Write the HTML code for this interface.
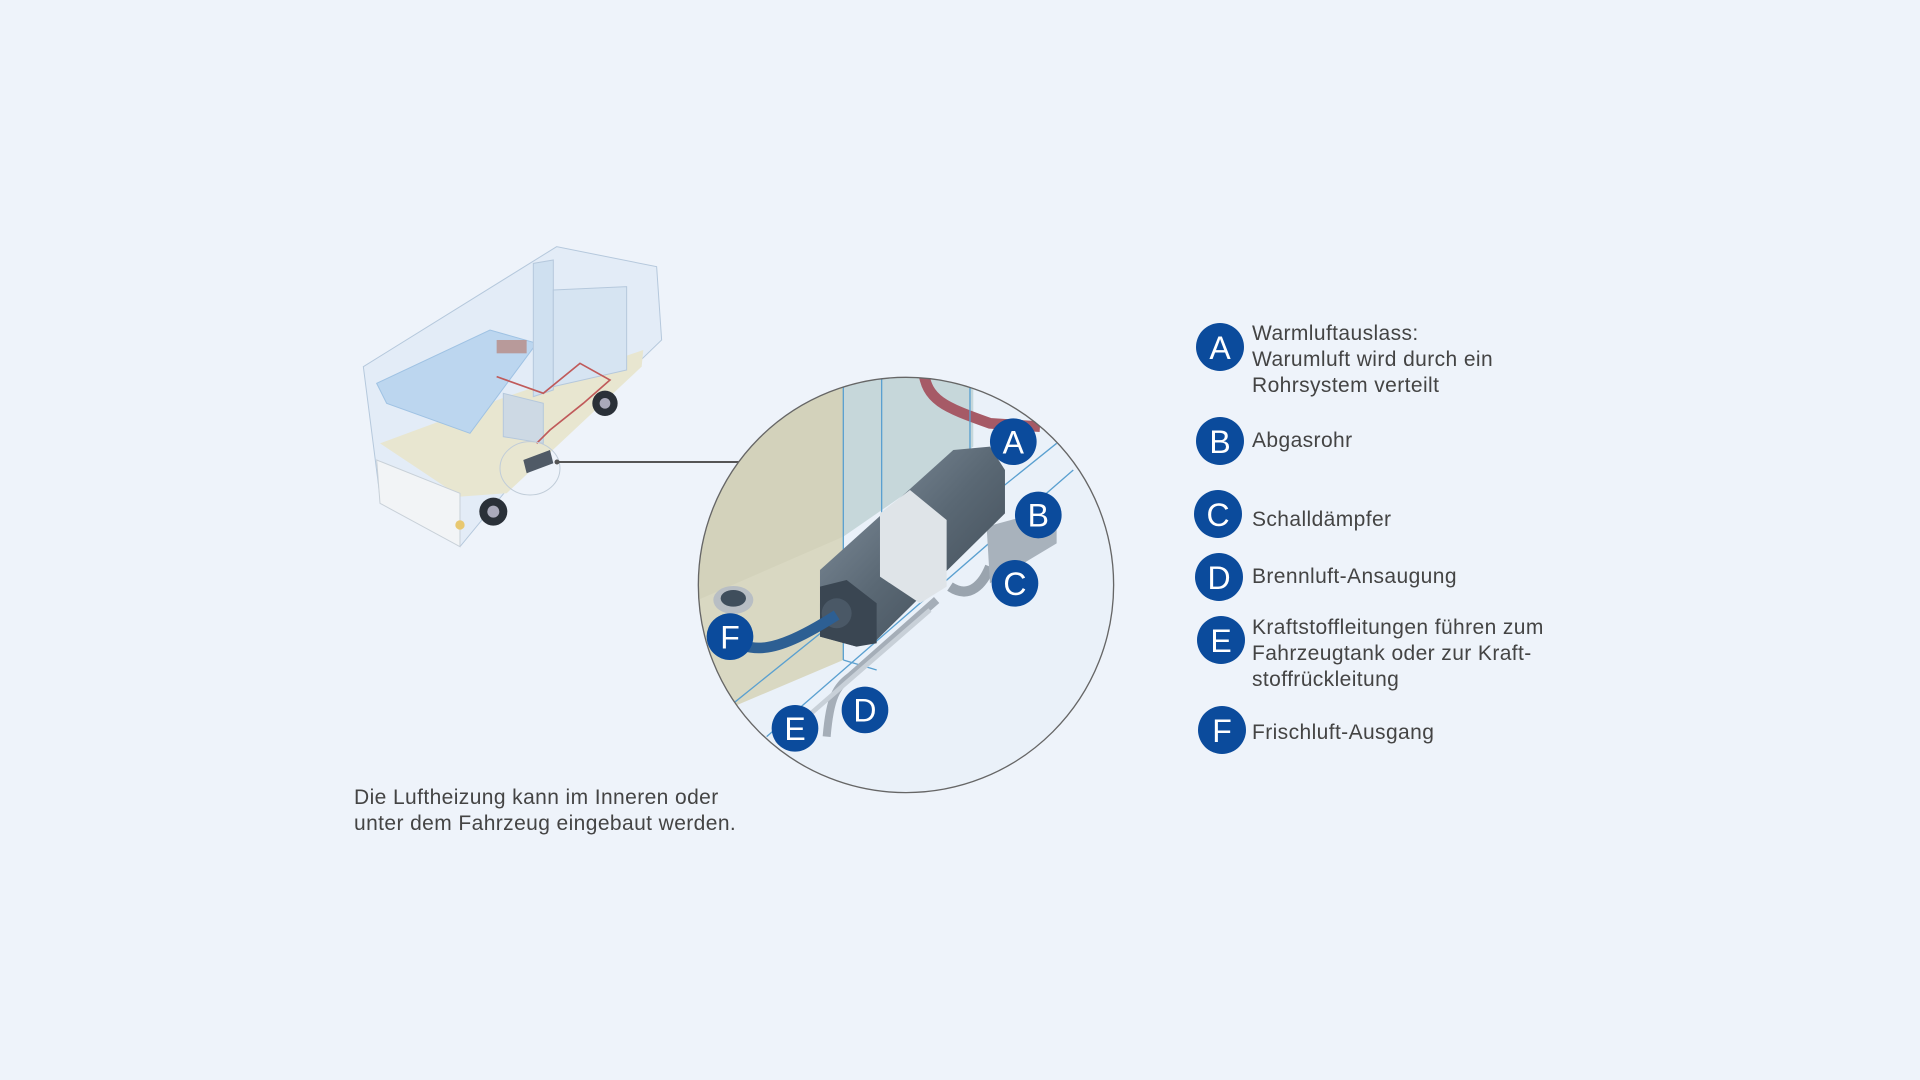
<!DOCTYPE html>
<html><head><meta charset="utf-8"><style>
html,body{margin:0;padding:0;}
body{width:1920px;height:1080px;background:#eef3fa;position:relative;overflow:hidden;font-family:"Liberation Sans",Arial,sans-serif;color:#444;}
.t{position:absolute;font-size:21px;letter-spacing:0.4px;line-height:26px;white-space:nowrap;}
svg{position:absolute;left:0;top:0;}
</style></head><body>
<svg width="1920" height="1080" viewBox="0 0 1920 1080">
<defs>
<clipPath id="cc"><circle cx="648" cy="645" r="623"/></clipPath>
<linearGradient id="hb" x1="0" y1="0" x2="1" y2="1">
<stop offset="0" stop-color="#8a98a6"/><stop offset="0.5" stop-color="#5a6874"/><stop offset="1" stop-color="#3a4550"/></linearGradient>
</defs>
<!-- camper -->
<g transform="translate(350,230) scale(0.3333)" stroke="#b5c8dc" stroke-width="3" fill="none">
<path d="M40,410 L620,50 L920,110 L935,330 L790,470 L470,780 L330,950 L90,800 Z" fill="#e3ecf7"/>
<path d="M90,640 L470,500 L880,360 L875,410 L470,790 L330,800 Z" fill="#e8e6d0" stroke="none"/>
<path d="M80,460 L420,300 L560,340 L360,610 L110,520 Z" fill="#bcd6ef" stroke="#9fc2e3"/>
<path d="M550,100 L610,90 L610,480 L550,500 Z" fill="#cfe0f0"/>
<path d="M610,180 L830,170 L830,420 L610,470 Z" fill="#d6e4f2"/>
<path d="M460,490 L580,520 L580,640 L460,620 Z" fill="#cdd9e4"/>
<path d="M80,690 L330,790 L330,950 L90,820 Z" fill="#f2f4f6" stroke="#c8d0d8"/>
<rect x="440" y="330" width="90" height="40" fill="#b89a9a" stroke="none"/>
<path d="M440,440 L580,490 L690,400 L780,450 L700,520 L600,600 L560,640" stroke="#c05a5a" stroke-width="5"/>
<circle cx="430" cy="845" r="42" fill="#2a3038" stroke="none"/>
<circle cx="430" cy="845" r="18" fill="#aab" stroke="none"/>
<circle cx="765" cy="520" r="38" fill="#2a3038" stroke="none"/>
<circle cx="765" cy="520" r="16" fill="#aab" stroke="none"/>
<path d="M520,690 L600,660 L610,700 L530,730 Z" fill="#505a66" stroke="none"/>
<ellipse cx="540" cy="715" rx="90" ry="80" stroke="#c0ccd8"/>
<circle cx="330" cy="885" r="14" fill="#e8c870" stroke="none"/>
</g>
<line x1="557" y1="462" x2="775" y2="462" stroke="#555" stroke-width="2"/>
<circle cx="557" cy="462" r="2.5" fill="#555"/>
<!-- detail circle -->
<g transform="translate(690,370) scale(0.3333)">
<g clip-path="url(#cc)">
<rect x="0" y="0" width="1300" height="1300" fill="#eaf1f9"/>
<path d="M0,0 L460,0 L460,870 L130,1010 L0,1010 Z" fill="#d9d8c2"/>
<path d="M0,0 L460,0 L460,500 L0,700 Z" fill="#cfcfb6" opacity="0.6"/>
<path d="M460,0 L850,0 L850,230 L460,500 Z" fill="#c6d7da"/>
<path d="M700,0 C710,90 760,110 900,160 L1050,170" stroke="#a65a66" stroke-width="32" fill="none"/>
<g stroke="#5aa0d0" stroke-width="4" fill="none">
<line x1="460" y1="0" x2="460" y2="870"/><line x1="575" y1="0" x2="575" y2="780"/><line x1="840" y1="0" x2="840" y2="300"/>
<line x1="130" y1="1000" x2="1100" y2="220"/><line x1="230" y1="1100" x2="1150" y2="300"/><line x1="460" y1="870" x2="560" y2="900"/>
</g>
<path d="M410,1100 C420,980 440,950 480,920 L740,690" stroke="#a5aeb8" stroke-width="24" fill="none"/>
<path d="M260,1120 L720,720" stroke="#c8d0d8" stroke-width="14" fill="none"/>
<path d="M780,650 C840,690 880,640 900,590" stroke="#9aa4ae" stroke-width="30" fill="none"/>
<path d="M890,470 L1000,440 L1100,470 L1100,520 L900,640 Z" fill="#a8b2bc"/>
<path d="M390,600 L790,240 L900,230 L945,300 L945,430 L560,810 L500,830 L390,800 Z" fill="url(#hb)"/>
<path d="M570,430 L660,360 L770,450 L770,650 L690,700 L570,620 Z" fill="#dfe4e8"/>
<path d="M390,650 L470,630 L560,700 L560,820 L500,830 L390,800 Z" fill="#3a4652"/>
<circle cx="440" cy="730" r="45" fill="#4a5866"/>
<path d="M100,790 C180,860 260,850 440,735" stroke="#2d5f93" stroke-width="32" fill="none"/>
<ellipse cx="130" cy="690" rx="60" ry="42" fill="#b8bec4"/>
<ellipse cx="130" cy="685" rx="38" ry="25" fill="#3f4e5c"/>
</g>
<circle cx="648" cy="645" r="623" fill="none" stroke="#666" stroke-width="4"/>
<g font-family="Liberation Sans,Arial,sans-serif" font-size="96" fill="#fff" text-anchor="middle">
<circle cx="970" cy="215" r="70" fill="#0b4b9c"/><text x="970" y="250">A</text>
<circle cx="1045" cy="435" r="70" fill="#0b4b9c"/><text x="1045" y="470">B</text>
<circle cx="975" cy="640" r="70" fill="#0b4b9c"/><text x="975" y="675">C</text>
<circle cx="525" cy="1020" r="70" fill="#0b4b9c"/><text x="525" y="1055">D</text>
<circle cx="315" cy="1075" r="70" fill="#0b4b9c"/><text x="315" y="1110">E</text>
<circle cx="120" cy="800" r="70" fill="#0b4b9c"/><text x="120" y="835">F</text>
</g>
</g>
<!-- legend circles -->
<g font-family="Liberation Sans,Arial,sans-serif" font-size="32" fill="#fff" text-anchor="middle">
<circle cx="1220" cy="347" r="24" fill="#0b4b9c"/><text x="1220" y="359">A</text>
<circle cx="1220" cy="441" r="24" fill="#0b4b9c"/><text x="1220" y="453">B</text>
<circle cx="1218" cy="514" r="24" fill="#0b4b9c"/><text x="1218" y="526">C</text>
<circle cx="1219" cy="577" r="24" fill="#0b4b9c"/><text x="1219" y="589">D</text>
<circle cx="1221" cy="640" r="24" fill="#0b4b9c"/><text x="1221" y="652">E</text>
<circle cx="1222" cy="730" r="24" fill="#0b4b9c"/><text x="1222" y="742">F</text>
</g>
</svg>
<div class="t" style="left:1252px;top:321px;">Warmluftauslass:<br>Warumluft wird durch ein<br>Rohrsystem verteilt</div>
<div class="t" style="left:1252px;top:428px;">Abgasrohr</div>
<div class="t" style="left:1252px;top:507px;">Schalldämpfer</div>
<div class="t" style="left:1252px;top:564px;">Brennluft-Ansaugung</div>
<div class="t" style="left:1252px;top:615px;">Kraftstoffleitungen führen zum<br>Fahrzeugtank oder zur Kraft-<br>stoffrückleitung</div>
<div class="t" style="left:1252px;top:720px;">Frischluft-Ausgang</div>
<div class="t" style="left:354px;top:785px;">Die Luftheizung kann im Inneren oder<br>unter dem Fahrzeug eingebaut werden.</div>
</body></html>
